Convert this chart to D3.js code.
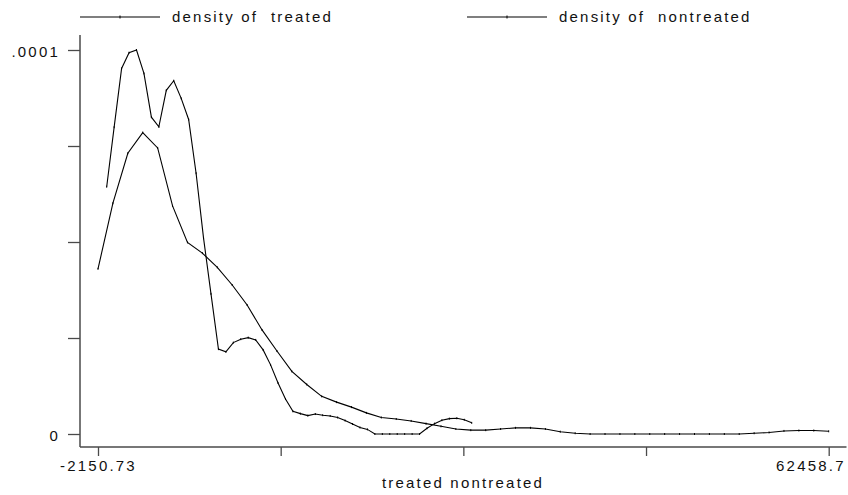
<!DOCTYPE html>
<html>
<head>
<meta charset="utf-8">
<title>density of treated / nontreated</title>
<style>
  body { margin: 0; background: #fff; }
  svg text { font-family: "Liberation Sans", Arial, sans-serif; font-size: 15px; letter-spacing: 2.2px; fill: #111; }
</style>
</head>
<body>
<div id="chart"></div>
<script src="https://d3js.org/d3.v7.min.js"></script>
<script>
// kernel density grid points and estimates
var treatedX = [-1381.5, -722.8, -64.1, 594.6, 1253.3, 1912.0, 2570.7, 3229.4, 3888.1, 4546.8,
  5205.5, 5864.2, 6522.9, 7181.6, 7840.3, 8499.0, 9157.7, 9816.4, 10475.1, 11133.8,
  11792.5, 12451.2, 13109.9, 13768.6, 14427.3, 15086.0, 15744.7, 16403.4, 17062.1, 17720.8,
  18379.5, 19038.2, 19696.9, 20355.6, 21014.3, 21673.0, 22331.7, 22990.4, 23649.1, 24307.8,
  24966.5, 25625.2, 26283.9, 26942.6, 27601.3, 28260.0, 28918.7, 29577.4, 30236.1, 30894.8];
var treatedY = [6.44e-5, 7.99e-5, 9.52e-5, 9.93e-5, 10.0e-5, 9.39e-5, 8.25e-5, 8.00e-5, 8.95e-5, 9.20e-5,
  8.74e-5, 8.19e-5, 6.79e-5, 5.10e-5, 3.65e-5, 2.21e-5, 2.14e-5, 2.38e-5, 2.47e-5, 2.51e-5,
  2.45e-5, 2.19e-5, 1.80e-5, 1.33e-5, 0.91e-5, 0.59e-5, 0.53e-5, 0.48e-5, 0.52e-5, 0.49e-5,
  0.47e-5, 0.43e-5, 0.35e-5, 0.26e-5, 0.17e-5, 0.12e-5, 0, 0, 0, 0,
  0, 0, 0, 0.15e-5, 0.27e-5, 0.36e-5, 0.40e-5, 0.41e-5, 0.37e-5, 0.29e-5];

var nontreatedX = [-2150.7, -832.2, 486.4, 1805.0, 3123.5, 4442.1, 5760.6, 7079.2, 8397.8, 9716.3,
  11034.9, 12353.4, 13672.0, 14990.6, 16309.1, 17627.7, 18946.2, 20264.8, 21583.4, 22901.9,
  24220.5, 25539.0, 26857.6, 28176.2, 29494.7, 30813.3, 32131.8, 33450.4, 34769.0, 36087.5,
  37406.1, 38724.6, 40043.2, 41361.8, 42680.3, 43998.9, 45317.4, 46636.0, 47954.6, 49273.1,
  50591.7, 51910.2, 53228.8, 54547.4, 55865.9, 57184.5, 58503.0, 59821.6, 61140.2, 62458.7];
var nontreatedY = [4.30e-5, 6.01e-5, 7.31e-5, 7.85e-5, 7.45e-5, 5.94e-5, 4.99e-5, 4.71e-5, 4.34e-5, 3.88e-5,
  3.36e-5, 2.71e-5, 2.16e-5, 1.63e-5, 1.29e-5, 0.98e-5, 0.83e-5, 0.70e-5, 0.55e-5, 0.43e-5,
  0.39e-5, 0.34e-5, 0.27e-5, 0.20e-5, 0.13e-5, 0.10e-5, 0.10e-5, 0.13e-5, 0.16e-5, 0.16e-5,
  0.13e-5, 0.06e-5, 0.02e-5, 0, 0, 0, 0, 0, 0, 0,
  0, 0, 0, 0, 0.02e-5, 0.04e-5, 0.08e-5, 0.09e-5, 0.09e-5, 0.07e-5];

var seriesNames = ["density of  treated", "density of  nontreated"];
var xTicks = [-2150.73, 14001.63, 30153.99, 46306.34, 62458.7];
var xTickLabels = ["-2150.73", "", "", "", "62458.7"];
var yTicks = [0, 0.000025, 0.00005, 0.000075, 0.0001];
var yTickLabels = ["0", "", "", "", ".0001"];
var xTitle = "treated nontreated";

var width = 848, height = 495;

var svg = d3.select('#chart')
  .append('svg')
  .attr('width', width)
  .attr('height', height);

var x = d3.scaleLinear()
  .domain([xTicks[0], xTicks[xTicks.length - 1]])
  .range([98, 828.7]);

var y = d3.scaleLinear()
  .domain([0, 0.0001])
  .range([434, 50]);

var axisColor = '#4a4a4a';

// y axis
var gy = svg.append('g')
  .attr('transform', 'translate(80,0)')
  .call(d3.axisLeft(y)
    .tickValues(yTicks)
    .tickSize(12)
    .tickPadding(8)
    .tickFormat(function(d, i) { return yTickLabels[i]; }));
gy.select('.domain').remove();
gy.selectAll('.tick line').attr('stroke', axisColor).attr('stroke-width', 1.3);
gy.selectAll('.tick text').attr('dy', '0.45em');
gy.append('line')
  .attr('x1', 0).attr('x2', 0)
  .attr('y1', 35).attr('y2', 447)
  .attr('stroke', axisColor).attr('stroke-width', 1.5);

// x axis
var gx = svg.append('g')
  .attr('transform', 'translate(0,447)')
  .call(d3.axisBottom(x)
    .tickValues(xTicks)
    .tickSize(9)
    .tickPadding(4)
    .tickFormat(function(d, i) { return xTickLabels[i]; }));
gx.select('.domain').remove();
gx.selectAll('.tick line').attr('stroke', axisColor).attr('stroke-width', 1.3);
gx.selectAll('.tick text')
  .filter(function(d, i) { return i === xTicks.length - 1; })
  .attr('text-anchor', 'end')
  .attr('dx', 16.5);
gx.append('line')
  .attr('x1', 80).attr('x2', 846.5)
  .attr('y1', 0).attr('y2', 0)
  .attr('stroke', axisColor).attr('stroke-width', 1.5);

svg.append('text')
  .attr('x', 463)
  .attr('y', 488)
  .attr('text-anchor', 'middle')
  .text(xTitle);

// curves
var line = d3.line()
  .x(function(d) { return x(d[0]); })
  .y(function(d) { return y(d[1]); });

var series = [
  d3.zip(treatedX, treatedY),
  d3.zip(nontreatedX, nontreatedY)
];

series.forEach(function(pts) {
  svg.append('path')
    .datum(pts)
    .attr('d', line)
    .attr('fill', 'none')
    .attr('stroke', '#000')
    .attr('stroke-width', 1.1);

  svg.append('g').selectAll('line')
    .data(pts)
    .enter()
    .append('line')
    .attr('x1', function(d) { return x(d[0]); })
    .attr('x2', function(d) { return x(d[0]); })
    .attr('y1', function(d) { return y(d[1]) - 1; })
    .attr('y2', function(d) { return y(d[1]) + 1; })
    .attr('stroke', '#000')
    .attr('stroke-width', 1);
});

// legend
var legendX = [80, 467];
seriesNames.forEach(function(name, i) {
  var g = svg.append('g').attr('transform', 'translate(' + legendX[i] + ',17)');
  g.append('line')
    .attr('x1', 0).attr('x2', 80)
    .attr('y1', 0).attr('y2', 0)
    .attr('stroke', '#000').attr('stroke-width', 1.1);
  g.append('line')
    .attr('x1', 40).attr('x2', 40)
    .attr('y1', -1.5).attr('y2', 1.5)
    .attr('stroke', '#000').attr('stroke-width', 1);
  g.append('text')
    .attr('x', 92)
    .attr('y', 5)
    .style('white-space', 'pre')
    .text(name);
});
</script>
</body>
</html>
